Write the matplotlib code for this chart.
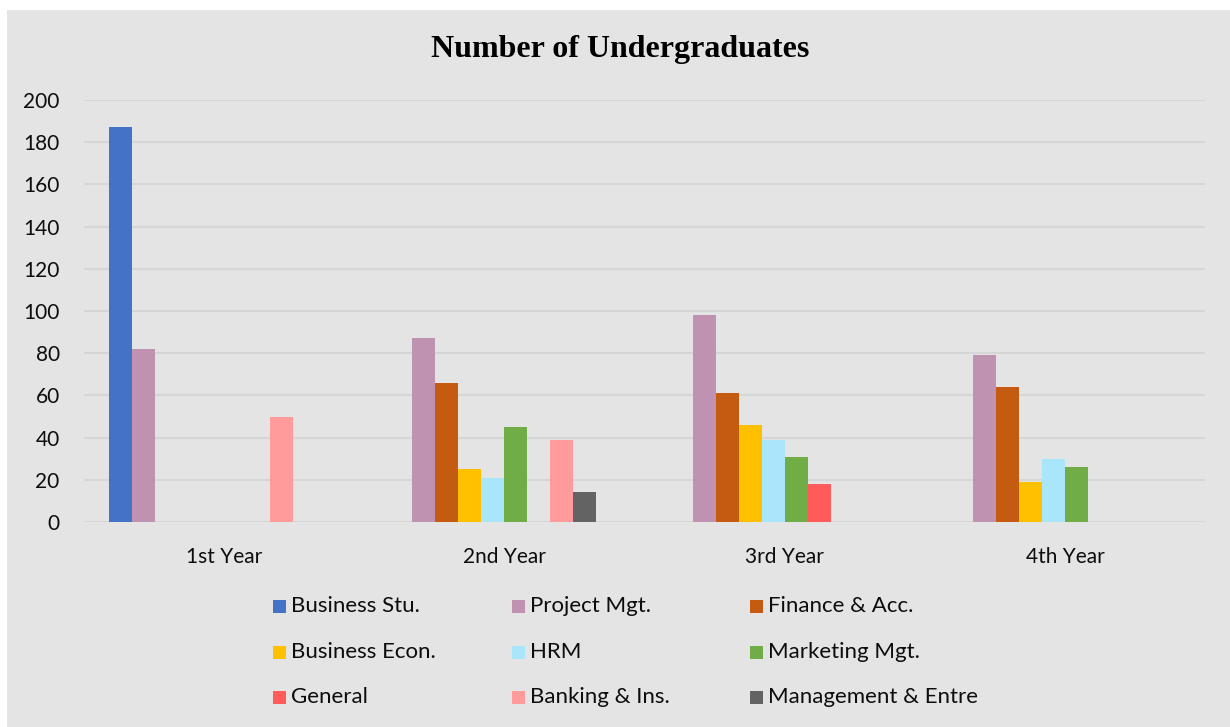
import matplotlib
matplotlib.use("Agg")
import matplotlib.pyplot as plt
from matplotlib.patches import Rectangle
import numpy as np

categories = ["1st Year", "2nd Year", "3rd Year", "4th Year"]
series_names = ["Business Stu.", "Project Mgt.", "Finance & Acc.", "Business Econ.", "HRM",
                "Marketing Mgt.", "General", "Banking & Ins.", "Management & Entre"]
business_stu = [187, 0, 0, 0]
project_mgt = [82, 87, 98, 79]
finance_acc = [0, 66, 61, 64]
business_econ = [0, 25, 46, 19]
hrm = [0, 21, 39, 30]
marketing_mgt = [0, 45, 31, 26]
general = [0, 0, 18, 0]
banking_ins = [50, 39, 0, 0]
management_entre = [0, 14, 0, 0]
series_values = [business_stu, project_mgt, finance_acc, business_econ, hrm,
                 marketing_mgt, general, banking_ins, management_entre]
colors = ["#4472C4", "#BF92B1", "#C55A11", "#FFC000", "#A9E5FB",
          "#70AD47", "#FF5B5B", "#FF9B9B", "#636363"]
yticks = [0, 20, 40, 60, 80, 100, 120, 140, 160, 180, 200]

FONT = "Lato"
BG = "#E4E4E4"
TXT = "#0d0d0d"
W, H = 1230, 727

fig = plt.figure(figsize=(12.3, 7.27), dpi=100, facecolor="white")
fig.patches.append(Rectangle((7 / W, 0), 1 - 7 / W, 1 - 10 / H,
                             transform=fig.transFigure, facecolor=BG,
                             edgecolor="none", zorder=-10))

ax = fig.add_axes([84 / W, (H - 522) / H, (1205 - 84) / W, (522 - 100) / H])
ax.patch.set_alpha(0)

x = np.arange(len(categories))
nslots = 10
w = 23 / 280
for i, (name, vals, c) in enumerate(zip(series_names, series_values, colors)):
    ax.bar(x + (i - (nslots - 1) / 2) * w, vals, width=w, color=c, label=name, zorder=3)

ax.set_xlim(-0.5, len(categories) - 0.5)
ax.set_ylim(0, 200)
ax.set_yticks(yticks)
ax.set_yticklabels([str(v) for v in yticks], fontfamily=FONT, fontsize=15, color=TXT)
ax.set_xticks(x)
ax.set_xticklabels(categories, fontfamily=FONT, fontsize=15, color=TXT)
ax.tick_params(axis="both", length=0)
ax.tick_params(axis="y", pad=17.5)
ax.tick_params(axis="x", pad=18)
ax.yaxis.grid(True, color="#D6D6D6", linewidth=1.5, zorder=0)
for s in ax.spines.values():
    s.set_visible(False)

fig.text(620 / W, 1 - 49 / H, "Number of Undergraduates", ha="center", va="center",
         fontfamily="Liberation Serif", fontweight="bold", fontsize=23, color="black")

# legend, row-major, 3 columns
col_x = [273, 512, 750]
row_y = [606, 652, 697]
msize = 13
for k, (name, c) in enumerate(zip(series_names, colors)):
    r, cc = divmod(k, 3)
    mx, my = col_x[cc], row_y[r]
    fig.patches.append(Rectangle((mx / W, 1 - (my + msize / 2) / H), msize / W, msize / H,
                                 transform=fig.transFigure, facecolor=c, edgecolor="none"))
    fig.text((mx + 18) / W, 1 - my / H, name, ha="left", va="center",
             fontfamily=FONT, fontsize=16, color=TXT)

fig.savefig("out.png", dpi=100, facecolor="white")
